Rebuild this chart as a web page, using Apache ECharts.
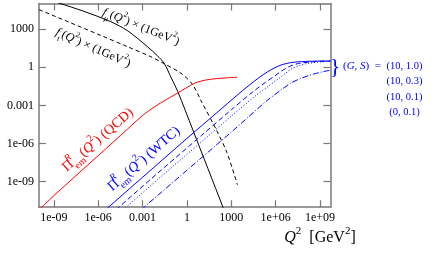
<!DOCTYPE html>
<html><head><meta charset="utf-8">
<script src="https://cdn.jsdelivr.net/npm/echarts@6/dist/echarts.min.js"></script>
<style>html,body{margin:0;padding:0;background:#fff}#c{width:437px;height:255px}</style>
</head><body><div id="c"></div>
<script>
// Axis ticks (values are log10 of the quantity)
const xTickValues = [-9, -6, -3, 0, 3, 6, 9];
const xTickLabels = ['1e-09', '1e-06', '0.001', '1', '1000', '1e+06', '1e+09'];
const yTickValues = [-9, -6, -3, 0, 3];
const yTickLabels = ['1e-09', '1e-06', '0.001', '1', '1000'];

// Series: [log10 Q^2, log10 value]
const fMu = [[-9.3,5.3],[-8.66,5.04],[-7,4.4],[-5.15,3.57],[-4,2.85],[-2.67,1.61],[-2.0,0.9],[-1.54,0.31],[-1.09,-0.77],[-0.62,-1.91],[0.4,-4.93],[2.43,-10.98],[2.5,-11.2]];
const fTau = [[-10,4.52],[-8,3.55],[-5.82,2.49],[-4,1.6],[-2.44,0.82],[-1.6,0.31],[-0.4,-0.48],[0.38,-1.36],[0.93,-2.58],[1.99,-4.93],[2.7,-6.7],[3.42,-9.25]];
const piQCD = [[-10,-11.2],[-9,-10.1],[-6,-6.95],[-4,-4.85],[-3,-3.8],[-2.2,-3.12],[-1.4,-2.55],[-0.8,-2.15],[0,-1.6],[0.5,-1.27],[1,-1.08],[1.5,-0.97],[2,-0.9],[2.7,-0.84],[3.4,-0.79]];
const wtc_10_10 = [[-5.5,-11.2],[-3,-8.65],[0,-5.6],[2,-3.6],[3.5,-2.1],[4.5,-1.15],[5.2,-0.55],[5.7,-0.2],[6.1,0.04],[6.5,0.22],[7,0.35],[7.5,0.42],[8.5,0.47],[9.7,0.49]];
const wtc_10_03 = [[-4.8,-11.2],[-2,-8.35],[1,-5.35],[3,-3.35],[4.5,-1.9],[5.3,-1.2],[5.9,-0.72],[6.4,-0.3],[6.8,-0.02],[7.2,0.18],[7.7,0.32],[8.5,0.42],[9.7,0.48]];
const wtc_10_01 = [[-4.3,-11.2],[-2,-8.85],[1,-5.85],[3,-3.85],[4.5,-2.38],[5.5,-1.5],[6.2,-0.9],[6.7,-0.45],[7.1,-0.12],[7.6,0.12],[8.2,0.3],[9,0.41],[9.7,0.46]];
const wtc_0_01 = [[-3.1,-11.2],[0,-8.1],[3,-5.1],[5.44,-2.6],[6.3,-1.85],[7,-1.27],[7.7,-0.88],[8.6,-0.53],[9.2,-0.36],[9.7,-0.24]];

const legendRows = ['(10, 1.0)', '(10, 0.3)', '(10, 0.1)', '(0, 0.1)'];

const SERIF = 'Liberation Serif';
const AX = '#7a7a7a';
const BLUE = '#0000ff';

function axisCommon(vals, labels, show, pos) {
  return {
    type: 'value', position: pos,
    axisLine: { show: true, onZero: false, lineStyle: { color: AX, width: 1.5 } },
    axisTick: { show: true, inside: true, length: 7, customValues: vals, lineStyle: { color: AX, width: 1.2 } },
    axisLabel: { show: show, customValues: vals, formatter: v => labels[vals.indexOf(Math.round(v))],
      fontFamily: SERIF, fontSize: 12, color: '#000', margin: 5 },
    splitLine: { show: false }
  };
}
const xa0 = Object.assign(axisCommon(xTickValues, xTickLabels, true, 'bottom'), { min: -10, max: 9.7 });
const xa1 = Object.assign(axisCommon(xTickValues, xTickLabels, false, 'top'), { min: -10, max: 9.7 });
const ya0 = Object.assign(axisCommon(yTickValues, yTickLabels, true, 'left'), { min: -11, max: 5 });
const ya1 = Object.assign(axisCommon(yTickValues, yTickLabels, false, 'right'), { min: -11, max: 5 });

function line(data, color, type) {
  return { type: 'line', data: data, showSymbol: false, smooth: 0.3, clip: true,
    lineStyle: { color: color, width: 1, type: type }, xAxisIndex: 0, yAxisIndex: 0 };
}

function rich(size, color) {
  const base = { fontFamily: SERIF, fontSize: size, lineHeight: size * 1.6, verticalAlign: 'middle', fill: color };
  const small = Math.round(size * 0.7);
  return {
    n: base,
    i: Object.assign({}, base, { fontStyle: 'italic' }),
    sp: { fontFamily: SERIF, fontSize: small, lineHeight: small + 1, verticalAlign: 'top', fill: color },
    sb: { fontFamily: SERIF, fontSize: small, lineHeight: small + 1, verticalAlign: 'bottom', fill: color },
    spi: { fontFamily: SERIF, fontSize: small, fontStyle: 'italic', lineHeight: small + 1, verticalAlign: 'top', fill: color, width: 0.1, align: 'left' }
  };
}
const deg = Math.PI / 180;
function label(x, y, rot, text, size, color, align) {
  return { type: 'text', x: x, y: y, rotation: rot * deg, z: 100,
    style: { text: text, rich: rich(size, color), align: align || 'center', verticalAlign: 'middle' } };
}

const graphics = [
  label(141, 27, -22, '{i|f}{sb|μ}{n|(}{i|Q}{sp|2}{n|) × (1GeV}{sp|2}{n|)}', 12, '#000'),
  label(93, 48, -24, '{i|f}{sb|τ}{n|(}{i|Q}{sp|2}{n|) × (1GeV}{sp|2}{n|)}', 12, '#000'),
  label(98, 140, 41, '{n|Π}{spi|R}{sb|em}{n|(}{i|Q}{sp|2}{n|) (QCD)}', 14, '#ff0000'),
  label(144, 159, 41, '{n|Π}{spi|R}{sb|em}{n|(}{i|Q}{sp|2}{n|) (WTC)}', 14, BLUE),
  label(320, 238, 0, '{i|Q}{sp|2}{n|  [GeV}{sp|2}{n|]}', 16, '#000'),
  { type: 'text', x: 335, y: 67, z: 100, style: { text: '}', font: '22px ' + SERIF, fill: BLUE, align: 'center', verticalAlign: 'middle' } },
  label(343, 66, 0, '{n|(}{i|G}{n|, }{i|S}{n|)  =}', 11, BLUE, 'left')
];
legendRows.forEach((t, k) => {
  graphics.push(label(404.5, 66 + k * 15.5, 0, '{n|' + t + '}', 10.5, BLUE));
});

const chart = echarts.init(document.getElementById('c'), null, { renderer: 'canvas' });
chart.setOption({
  animation: false,
  backgroundColor: '#fff',
  grid: { left: 39, right: 106.6, top: 3.5, bottom: 47.8, containLabel: false },
  xAxis: [xa0, xa1],
  yAxis: [ya0, ya1],
  series: [
    line(fMu, '#000', 'solid'),
    line(fTau, '#000', [4, 3]),
    line(piQCD, '#ff0000', 'solid'),
    line(wtc_10_10, BLUE, 'solid'),
    line(wtc_10_03, BLUE, [5, 3]),
    line(wtc_10_01, BLUE, [1, 2]),
    line(wtc_0_01, BLUE, [6, 2, 1, 2])
  ],
  graphic: graphics
});
</script></body></html>
